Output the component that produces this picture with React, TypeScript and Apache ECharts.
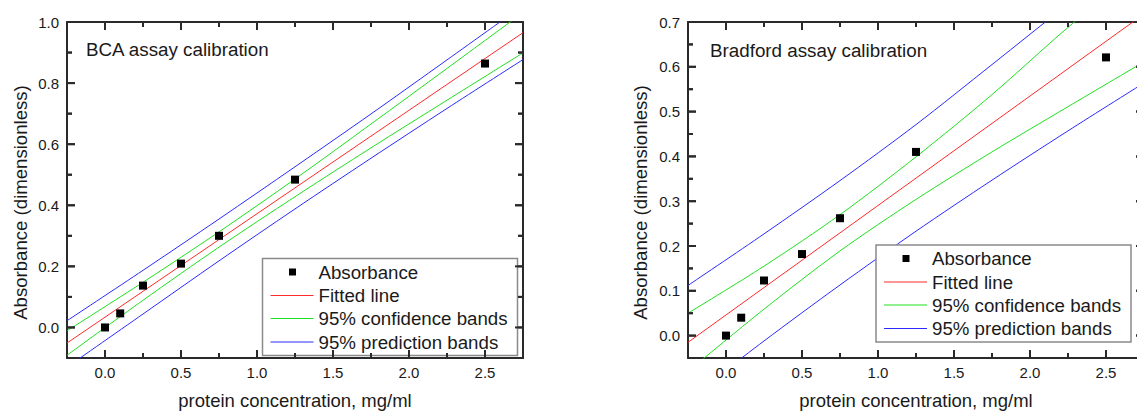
import React, { useEffect, useRef } from "react";
import * as echarts from "echarts";

// ---------- data ----------
const concentration = [0, 0.1, 0.25, 0.5, 0.75, 1.25, 2.5];
const bcaAbsorbance = [0.0, 0.046, 0.137, 0.209, 0.3, 0.484, 0.864];
const bradfordAbsorbance = [0.0, 0.04, 0.123, 0.182, 0.262, 0.41, 0.621];

const fitX = [-0.25, 2.75];
const bcaFit = [-0.051, 0.965];
const bradfordFit = [-0.015, 0.718];

const bandX = [-0.25, 0.25, 0.75, 1.25, 1.75, 2.25, 2.75];
const bcaConfUpper = [-0.011, 0.148, 0.313, 0.486, 0.666, 0.848, 1.031];
const bcaConfLower = [-0.091, 0.089, 0.263, 0.428, 0.588, 0.744, 0.899];
const bcaPredUpper = [0.022, 0.187, 0.355, 0.526, 0.699, 0.876, 1.054];
const bcaPredLower = [-0.13, 0.044, 0.218, 0.388, 0.554, 0.717, 0.877];
const bradConfUpper = [0.05, 0.155, 0.27, 0.399, 0.538, 0.688, 0.826];
const bradConfLower = [-0.08, 0.059, 0.189, 0.304, 0.41, 0.511, 0.611];
const bradPredUpper = [0.112, 0.227, 0.346, 0.471, 0.605, 0.74, 0.872];
const bradPredLower = [-0.142, -0.012, 0.113, 0.233, 0.347, 0.457, 0.564];

// axis ranges and tick values
const xRange = [-0.25, 2.75];
const xMajor = [0, 0.5, 1, 1.5, 2, 2.5];
const xMinor = [0.25, 0.75, 1.25, 1.75, 2.25];
const bcaYRange = [-0.1, 1.0];
const bcaYMajor = [0, 0.2, 0.4, 0.6, 0.8, 1.0];
const bcaYMinor = [0.1, 0.3, 0.5, 0.7, 0.9];
const bradYRange = [-0.05, 0.7];
const bradYMajor = [0, 0.1, 0.2, 0.3, 0.4, 0.5, 0.6, 0.7];
const bradYMinor = [0.05, 0.15, 0.25, 0.35, 0.45, 0.55, 0.65];

const titles = ["BCA assay calibration", "Bradford assay calibration"];
const legendNames = ["Absorbance", "Fitted line", "95% confidence bands", "95% prediction bands"];
const xName = "protein concentration, mg/ml";
const yName = "Absorbance (dimensionless)";

// ---------- styles ----------
const FONT = "'Liberation Sans', Arial, Helvetica, sans-serif";
const TXT = "#1a1a1a";
const AX = "#2a2a2a";
const RED = "#ff2a2a";
const GREEN = "#1ee01e";
const BLUE = "#2a2aff";

const MAJOR_LEN = 8;
const MINOR_LEN = 5;

const pairs = (xs: number[], ys: number[]) => xs.map((x, i) => [x, ys[i]]);
const fmt1 = (v: number) => v.toFixed(1);
const lineStyle = { color: AX, width: 2 };

function xAxesFor(gridIndex: number) {
  const main: any = {
    type: "value",
    gridIndex,
    min: xRange[0],
    max: xRange[1],
    splitLine: { show: false },
    axisTick: { show: false },
  };
  return [
    {
      ...main,
      position: "bottom",
      axisLine: { show: true, onZero: false, lineStyle },
      axisLabel: {
        show: true,
        customValues: xMajor,
        formatter: fmt1,
        fontSize: 15,
        color: TXT,
        margin: 7,
        fontFamily: FONT,
      },
      name: xName,
      nameLocation: "middle",
      nameGap: 33,
      nameTextStyle: { fontSize: 18.5, color: TXT, fontFamily: FONT },
    },
    {
      ...main,
      position: "top",
      axisLine: { show: true, onZero: false, lineStyle },
      axisLabel: { show: false },
    },
  ];
}

function yAxesFor(gridIndex: number, range: number[], major: number[]) {
  const main: any = {
    type: "value",
    gridIndex,
    min: range[0],
    max: range[1],
    splitLine: { show: false },
    axisTick: { show: false },
  };
  return [
    {
      ...main,
      position: "left",
      axisLine: { show: true, onZero: false, lineStyle },
      axisLabel: {
        show: true,
        customValues: major,
        formatter: fmt1,
        fontSize: 15,
        color: TXT,
        margin: 8,
        fontFamily: FONT,
      },
    },
    { ...main, position: "right", axisLine: { show: true, onZero: false, lineStyle }, axisLabel: { show: false } },
  ];
}

// inward tick marks drawn by a custom series through the axis scales: data item = [x, y, length]
function tickSide(axisIndex: number, data: number[][], dx: number, dy: number) {
  return {
    type: "custom",
    xAxisIndex: axisIndex,
    yAxisIndex: axisIndex,
    silent: true,
    clip: false,
    z: 6,
    data,
    renderItem: (params: any, api: any) => {
      const p = api.coord([api.value(0), api.value(1)]);
      const len = api.value(2);
      return {
        type: "line",
        shape: { x1: p[0], y1: p[1], x2: p[0] + dx * len, y2: p[1] + dy * len },
        style: { stroke: AX, lineWidth: 2 },
      };
    },
  };
}

function tickSeriesFor(axisIndex: number, yRange: number[], yMajor: number[], yMinor: number[]) {
  const xTicks = (yEdge: number) => [
    ...xMajor.map((v) => [v, yEdge, MAJOR_LEN]),
    ...xMinor.map((v) => [v, yEdge, MINOR_LEN]),
  ];
  const yTicks = (xEdge: number) => [
    ...yMajor.map((v) => [xEdge, v, MAJOR_LEN]),
    ...yMinor.map((v) => [xEdge, v, MINOR_LEN]),
  ];
  return [
    tickSide(axisIndex, xTicks(yRange[0]), 0, -1),
    tickSide(axisIndex, xTicks(yRange[1]), 0, 1),
    tickSide(axisIndex, yTicks(xRange[0]), 1, 0),
    tickSide(axisIndex, yTicks(xRange[1]), -1, 0),
  ];
}

function seriesFor(
  axisIndex: number,
  points: number[],
  fit: number[],
  confU: number[],
  confL: number[],
  predU: number[],
  predL: number[],
  yRange: number[],
  yMajor: number[],
  yMinor: number[]
) {
  const line = (name: string, data: number[][], color: string, smooth: number) => ({
    type: "line",
    name,
    xAxisIndex: axisIndex,
    yAxisIndex: axisIndex,
    data,
    symbol: "none",
    smooth,
    clip: true,
    lineStyle: { color, width: 1 },
    itemStyle: { color },
    z: 2,
    silent: true,
  });
  return [
    line(legendNames[3], pairs(bandX, predU), BLUE, 0.3),
    line(legendNames[3], pairs(bandX, predL), BLUE, 0.3),
    line(legendNames[2], pairs(bandX, confU), GREEN, 0.3),
    line(legendNames[2], pairs(bandX, confL), GREEN, 0.3),
    line(legendNames[1], pairs(fitX, fit), RED, 0),
    {
      type: "scatter",
      name: legendNames[0],
      xAxisIndex: axisIndex,
      yAxisIndex: axisIndex,
      data: pairs(concentration, points),
      symbol: "rect",
      symbolSize: 8,
      itemStyle: { color: "#000", opacity: 1 },
      z: 5,
      silent: true,
    },
    ...tickSeriesFor(axisIndex, yRange, yMajor, yMinor),
  ];
}

function legendGraphic(left: number, top: number) {
  const rowY = [13.5, 37, 60, 83.5];
  const colors = [RED, GREEN, BLUE];
  const els: any[] = [
    {
      type: "rect",
      shape: { x: left, y: top, width: 255, height: 97 },
      style: { fill: "#fff", stroke: "#8a8a8a", lineWidth: 1.5 },
      z: 100,
    },
    {
      type: "rect",
      shape: { x: left + 26.5, y: top + rowY[0] - 3.5, width: 7, height: 7 },
      style: { fill: "#000" },
      z: 101,
    },
  ];
  colors.forEach((c, i) => {
    els.push({
      type: "line",
      shape: { x1: left + 8, y1: top + rowY[i + 1], x2: left + 51, y2: top + rowY[i + 1] },
      style: { stroke: c, lineWidth: 1 },
      z: 101,
    });
  });
  legendNames.forEach((n, i) => {
    els.push({
      type: "text",
      x: left + 56,
      y: top + rowY[i],
      style: {
        text: n,
        fill: TXT,
        font: `18.7px ${FONT}`,
        align: "left",
        verticalAlign: "middle",
        textAlign: "left",
        textVerticalAlign: "middle",
      },
      z: 101,
    });
  });
  return els;
}

function textEl(text: string, x: number, y: number, size: number, align: string, rotation = 0) {
  return {
    type: "text",
    x,
    y,
    rotation,
    style: {
      text,
      fill: TXT,
      font: `${size}px ${FONT}`,
      align,
      verticalAlign: "middle",
      textAlign: align,
      textVerticalAlign: "middle",
    },
    z: 101,
  };
}

// backup tick marks as graphic lines, each positioned with the chart's axis scales
function tickGraphics(chart: echarts.ECharts, axisIndex: number, yRange: number[], yMajor: number[], yMinor: number[]) {
  const els: any[] = [];
  const add = (x: number, y: number, dx: number, dy: number, len: number) => {
    try {
      const p = chart.convertToPixel({ xAxisIndex: axisIndex, yAxisIndex: axisIndex }, [x, y]) as any;
      if (!p || !isFinite(p[0]) || !isFinite(p[1])) return;
      els.push({
        type: "line",
        shape: { x1: p[0], y1: p[1], x2: p[0] + dx * len, y2: p[1] + dy * len },
        style: { stroke: AX, lineWidth: 2 },
        z: 120,
      });
    } catch (e) {
      /* skip */
    }
  };
  xMajor.forEach((v) => { add(v, yRange[0], 0, -1, MAJOR_LEN); add(v, yRange[1], 0, 1, MAJOR_LEN); });
  xMinor.forEach((v) => { add(v, yRange[0], 0, -1, MINOR_LEN); add(v, yRange[1], 0, 1, MINOR_LEN); });
  yMajor.forEach((v) => { add(xRange[0], v, 1, 0, MAJOR_LEN); add(xRange[1], v, -1, 0, MAJOR_LEN); });
  yMinor.forEach((v) => { add(xRange[0], v, 1, 0, MINOR_LEN); add(xRange[1], v, -1, 0, MINOR_LEN); });
  return els;
}

function buildOption(): any {
  return {
    animation: false,
    backgroundColor: "#ffffff",
    grid: [
      { left: 67, top: 22, width: 456, height: 336, containLabel: false, outerBoundsMode: "none" },
      { left: 688, top: 22, width: 456, height: 336, containLabel: false, outerBoundsMode: "none" },
    ],
    xAxis: [...xAxesFor(0), ...xAxesFor(1)],
    yAxis: [...yAxesFor(0, bcaYRange, bcaYMajor), ...yAxesFor(1, bradYRange, bradYMajor)],
    series: [
      ...seriesFor(0, bcaAbsorbance, bcaFit, bcaConfUpper, bcaConfLower, bcaPredUpper, bcaPredLower,
        bcaYRange, bcaYMajor, bcaYMinor),
      ...seriesFor(2, bradfordAbsorbance, bradfordFit, bradConfUpper, bradConfLower, bradPredUpper, bradPredLower,
        bradYRange, bradYMajor, bradYMinor),
    ],
  };
}

export default function App() {
  const ref = useRef<HTMLDivElement>(null);
  useEffect(() => {
    if (!ref.current) return;
    const chart = echarts.init(ref.current, null, { renderer: "svg" });
    chart.setOption(buildOption());
    const ticks = [
      ...tickGraphics(chart, 0, bcaYRange, bcaYMajor, bcaYMinor),
      ...tickGraphics(chart, 2, bradYRange, bradYMajor, bradYMinor),
    ];
    chart.setOption({
      graphic: {
        elements: [
          textEl(titles[0], 86, 49, 18.8, "left"),
          textEl(titles[1], 710, 50, 18.8, "left"),
          textEl(yName, 20.5, 202.5, 18.6, "center", Math.PI / 2),
          textEl(yName, 640, 202.5, 18.6, "center", Math.PI / 2),
          ...legendGraphic(262.5, 258.5),
          ...legendGraphic(876, 245),
          ...ticks,
        ],
      },
    });
    return () => chart.dispose();
  }, []);
  return (
    <div
      ref={ref}
      style={{ position: "absolute", left: 0, top: 0, width: 1137, height: 412, background: "#fff" }}
    />
  );
}
